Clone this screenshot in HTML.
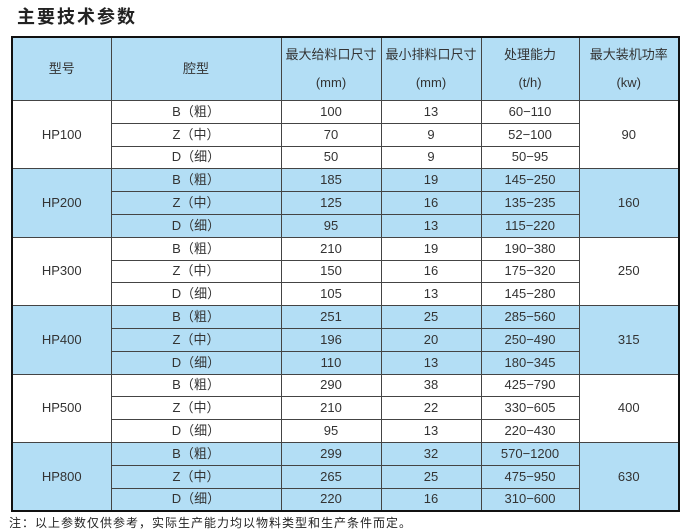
<!DOCTYPE html>
<html><head><meta charset="utf-8"><style>
body{margin:0;width:688px;height:531px;background:#fff;position:relative;overflow:hidden;font-family:"Liberation Sans","Noto Sans CJK SC",sans-serif;}
.t{position:absolute;left:17px;top:3px;font-size:18px;font-weight:bold;color:#222;letter-spacing:2px;}
table{position:absolute;left:11px;top:36px;width:667px;border-collapse:collapse;table-layout:fixed;border:2px solid #111;}
td{border:1px solid #444;text-align:center;font-size:13px;color:#333;padding:0;height:21.8px;line-height:16px;}
tr.h td{height:62px;background:#b3def5;font-size:13px;line-height:28px;}
.b{background:#b3def5;}
.n{position:absolute;left:9px;top:514px;font-size:12px;color:#222;letter-spacing:1px;}
</style></head><body>
<div class="t">主要技术参数</div>
<table>
<colgroup><col style="width:99px"><col style="width:170px"><col style="width:100px"><col style="width:100px"><col style="width:98px"><col style="width:100px"></colgroup>
<tr class="h"><td>型号</td><td>腔型</td><td>最大给料口尺寸<br>(mm)</td><td>最小排料口尺寸<br>(mm)</td><td>处理能力<br>(t/h)</td><td>最大装机功率<br>(kw)</td></tr>
<tr><td rowspan="3">HP100</td><td>B（粗）</td><td>100</td><td>13</td><td>60−110</td><td rowspan="3">90</td></tr>
<tr><td>Z（中）</td><td>70</td><td>9</td><td>52−100</td></tr>
<tr><td>D（细）</td><td>50</td><td>9</td><td>50−95</td></tr>
<tr class="b"><td rowspan="3">HP200</td><td>B（粗）</td><td>185</td><td>19</td><td>145−250</td><td rowspan="3">160</td></tr>
<tr class="b"><td>Z（中）</td><td>125</td><td>16</td><td>135−235</td></tr>
<tr class="b"><td>D（细）</td><td>95</td><td>13</td><td>115−220</td></tr>
<tr><td rowspan="3">HP300</td><td>B（粗）</td><td>210</td><td>19</td><td>190−380</td><td rowspan="3">250</td></tr>
<tr><td>Z（中）</td><td>150</td><td>16</td><td>175−320</td></tr>
<tr><td>D（细）</td><td>105</td><td>13</td><td>145−280</td></tr>
<tr class="b"><td rowspan="3">HP400</td><td>B（粗）</td><td>251</td><td>25</td><td>285−560</td><td rowspan="3">315</td></tr>
<tr class="b"><td>Z（中）</td><td>196</td><td>20</td><td>250−490</td></tr>
<tr class="b"><td>D（细）</td><td>110</td><td>13</td><td>180−345</td></tr>
<tr><td rowspan="3">HP500</td><td>B（粗）</td><td>290</td><td>38</td><td>425−790</td><td rowspan="3">400</td></tr>
<tr><td>Z（中）</td><td>210</td><td>22</td><td>330−605</td></tr>
<tr><td>D（细）</td><td>95</td><td>13</td><td>220−430</td></tr>
<tr class="b"><td rowspan="3">HP800</td><td>B（粗）</td><td>299</td><td>32</td><td>570−1200</td><td rowspan="3">630</td></tr>
<tr class="b"><td>Z（中）</td><td>265</td><td>25</td><td>475−950</td></tr>
<tr class="b"><td>D（细）</td><td>220</td><td>16</td><td>310−600</td></tr>
</table>
<div class="n">注：以上参数仅供参考，实际生产能力均以物料类型和生产条件而定。</div>
</body></html>
